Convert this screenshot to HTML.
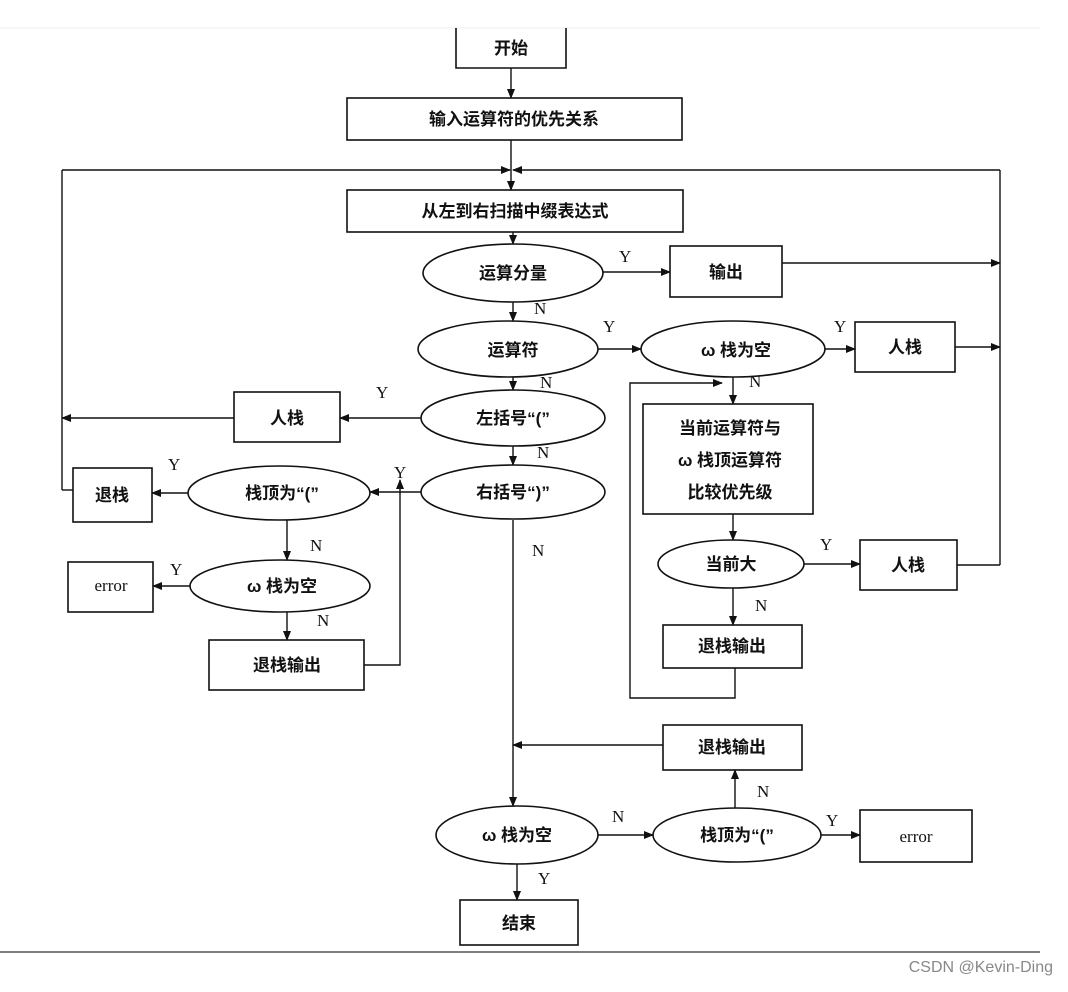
<!DOCTYPE html>
<html><head><meta charset="utf-8"><style>
body{margin:0;background:#fff;}
svg text{font-family:"Liberation Serif","Noto Serif CJK SC",serif;font-weight:bold;fill:#111;}
.c{font-family:"Liberation Sans","Noto Sans CJK SC",sans-serif;font-size:17px;font-weight:bold;}
.l{font-size:17px;font-weight:normal;}
</style></head><body>
<svg width="1068" height="987" viewBox="0 0 1068 987" xmlns="http://www.w3.org/2000/svg">
<defs><marker id="a" markerWidth="10" markerHeight="8" refX="9" refY="4" orient="auto" markerUnits="userSpaceOnUse"><path d="M0,0 L10,4 L0,8 Z" fill="#111"/></marker></defs>
<line x1="0" y1="28" x2="1040" y2="28" stroke="#eee" stroke-width="1"/>
<g stroke="#111" stroke-width="1.6" fill="none">
<!-- boxes -->
<path d="M456,28 V68 H566 V28"/>
<rect x="347" y="98" width="335" height="42"/>
<rect x="347" y="190" width="336" height="42"/>
<rect x="670" y="246" width="112" height="51"/>
<rect x="855" y="322" width="100" height="50"/>
<rect x="234" y="392" width="106" height="50"/>
<rect x="73" y="468" width="79" height="54"/>
<rect x="68" y="562" width="85" height="50"/>
<rect x="209" y="640" width="155" height="50"/>
<rect x="643" y="404" width="170" height="110"/>
<rect x="860" y="540" width="97" height="50"/>
<rect x="663" y="625" width="139" height="43"/>
<rect x="663" y="725" width="139" height="45"/>
<rect x="860" y="810" width="112" height="52"/>
<rect x="460" y="900" width="118" height="45"/>
<!-- ellipses -->
<ellipse cx="513" cy="273" rx="90" ry="29"/>
<ellipse cx="508" cy="349" rx="90" ry="28"/>
<ellipse cx="733" cy="349" rx="92" ry="28"/>
<ellipse cx="513" cy="418" rx="92" ry="28"/>
<ellipse cx="513" cy="492" rx="92" ry="27"/>
<ellipse cx="279" cy="493" rx="91" ry="27"/>
<ellipse cx="280" cy="586" rx="90" ry="26"/>
<ellipse cx="731" cy="564" rx="73" ry="24"/>
<ellipse cx="517" cy="835" rx="81" ry="29"/>
<ellipse cx="737" cy="835" rx="84" ry="27"/>
</g>
<g stroke="#111" stroke-width="1.4" fill="none" marker-end="url(#a)">
<line x1="511" y1="68" x2="511" y2="98"/>
<line x1="511" y1="140" x2="511" y2="190"/>
<line x1="62" y1="170" x2="510" y2="170"/>
<line x1="1000" y1="170" x2="513" y2="170"/>
<line x1="513" y1="232" x2="513" y2="244"/>
<line x1="603" y1="272" x2="670" y2="272"/>
<line x1="782" y1="263" x2="1000" y2="263"/>
<line x1="513" y1="302" x2="513" y2="321"/>
<line x1="598" y1="349" x2="641" y2="349"/>
<line x1="825" y1="349" x2="855" y2="349"/>
<line x1="955" y1="347" x2="1000" y2="347"/>
<line x1="513" y1="377" x2="513" y2="390"/>
<line x1="421" y1="418" x2="340" y2="418"/>
<line x1="234" y1="418" x2="62" y2="418"/>
<line x1="513" y1="446" x2="513" y2="465"/>
<line x1="421" y1="492" x2="370" y2="492"/>
<path d="M364,665 H400 V480"/>
<line x1="188" y1="493" x2="152" y2="493"/>
<line x1="287" y1="520" x2="287" y2="560"/>
<line x1="190" y1="586" x2="153" y2="586"/>
<line x1="287" y1="612" x2="287" y2="640"/>
<line x1="733" y1="377" x2="733" y2="404"/>
<path d="M735,668 V698 H630 V383 H722"/>
<line x1="733" y1="514" x2="733" y2="540"/>
<line x1="804" y1="564" x2="860" y2="564"/>
<line x1="733" y1="588" x2="733" y2="625"/>
<line x1="513" y1="520" x2="513" y2="806"/>
<line x1="663" y1="745" x2="513" y2="745"/>
<line x1="735" y1="808" x2="735" y2="770"/>
<line x1="598" y1="835" x2="653" y2="835"/>
<line x1="821" y1="835" x2="860" y2="835"/>
<line x1="517" y1="864" x2="517" y2="900"/>
</g>
<g stroke="#111" stroke-width="1.4" fill="none">
<line x1="62" y1="170" x2="62" y2="490"/><line x1="62" y1="490" x2="73" y2="490"/>
<line x1="1000" y1="170" x2="1000" y2="565"/><line x1="957" y1="565" x2="1000" y2="565"/>
</g>
<line x1="0" y1="952" x2="1040" y2="952" stroke="#333" stroke-width="1.2"/>
<g class="c" text-anchor="middle">
<text class="c" x="511" y="54" text-anchor="middle">开始</text>
<text class="c" x="514" y="125" text-anchor="middle">输入运算符的优先关系</text>
<text class="c" x="515" y="217" text-anchor="middle">从左到右扫描中缀表达式</text>
<text class="c" x="513" y="279" text-anchor="middle">运算分量</text>
<text class="c" x="726" y="278" text-anchor="middle">输出</text>
<text class="c" x="513" y="356" text-anchor="middle">运算符</text>
<text class="c" x="736" y="356" text-anchor="middle">ω 栈为空</text>
<text class="c" x="905" y="353" text-anchor="middle">人栈</text>
<text class="c" x="287" y="424" text-anchor="middle">人栈</text>
<text class="c" x="513" y="424" text-anchor="middle">左括号“(”</text>
<text class="c" x="513" y="498" text-anchor="middle">右括号“)”</text>
<text class="c" x="282" y="499" text-anchor="middle">栈顶为“(”</text>
<text class="c" x="112" y="501" text-anchor="middle">退栈</text>
<text class="c" x="282" y="592" text-anchor="middle">ω 栈为空</text>
<text class="c" x="111" y="591" text-anchor="middle" style="font-family:'Liberation Serif',serif;font-weight:normal">error</text>
<text class="c" x="287" y="671" text-anchor="middle">退栈输出</text>
<text class="c" x="730" y="434" text-anchor="middle">当前运算符与</text>
<text class="c" x="730" y="466" text-anchor="middle">ω 栈顶运算符</text>
<text class="c" x="730" y="498" text-anchor="middle">比较优先级</text>
<text class="c" x="731" y="570" text-anchor="middle">当前大</text>
<text class="c" x="908" y="571" text-anchor="middle">人栈</text>
<text class="c" x="732" y="652" text-anchor="middle">退栈输出</text>
<text class="c" x="732" y="753" text-anchor="middle">退栈输出</text>
<text class="c" x="517" y="841" text-anchor="middle">ω 栈为空</text>
<text class="c" x="737" y="841" text-anchor="middle">栈顶为“(”</text>
<text class="c" x="916" y="842" text-anchor="middle" style="font-family:'Liberation Serif',serif;font-weight:normal">error</text>
<text class="c" x="519" y="929" text-anchor="middle">结束</text>
</g>
<g class="l">
<text class="l" x="619" y="262">Y</text>
<text class="l" x="534" y="314">N</text>
<text class="l" x="603" y="332">Y</text>
<text class="l" x="834" y="332">Y</text>
<text class="l" x="540" y="388">N</text>
<text class="l" x="749" y="387">N</text>
<text class="l" x="376" y="398">Y</text>
<text class="l" x="537" y="458">N</text>
<text class="l" x="168" y="470">Y</text>
<text class="l" x="394" y="478">Y</text>
<text class="l" x="532" y="556">N</text>
<text class="l" x="310" y="551">N</text>
<text class="l" x="170" y="575">Y</text>
<text class="l" x="317" y="626">N</text>
<text class="l" x="820" y="550">Y</text>
<text class="l" x="755" y="611">N</text>
<text class="l" x="757" y="797">N</text>
<text class="l" x="612" y="822">N</text>
<text class="l" x="826" y="826">Y</text>
<text class="l" x="538" y="884">Y</text>
</g>
<text x="1053" y="972" text-anchor="end" style="font-family:'Liberation Sans',sans-serif;font-weight:normal;font-size:16px;fill:#888">CSDN @Kevin-Ding</text>
</svg>
</body></html>
